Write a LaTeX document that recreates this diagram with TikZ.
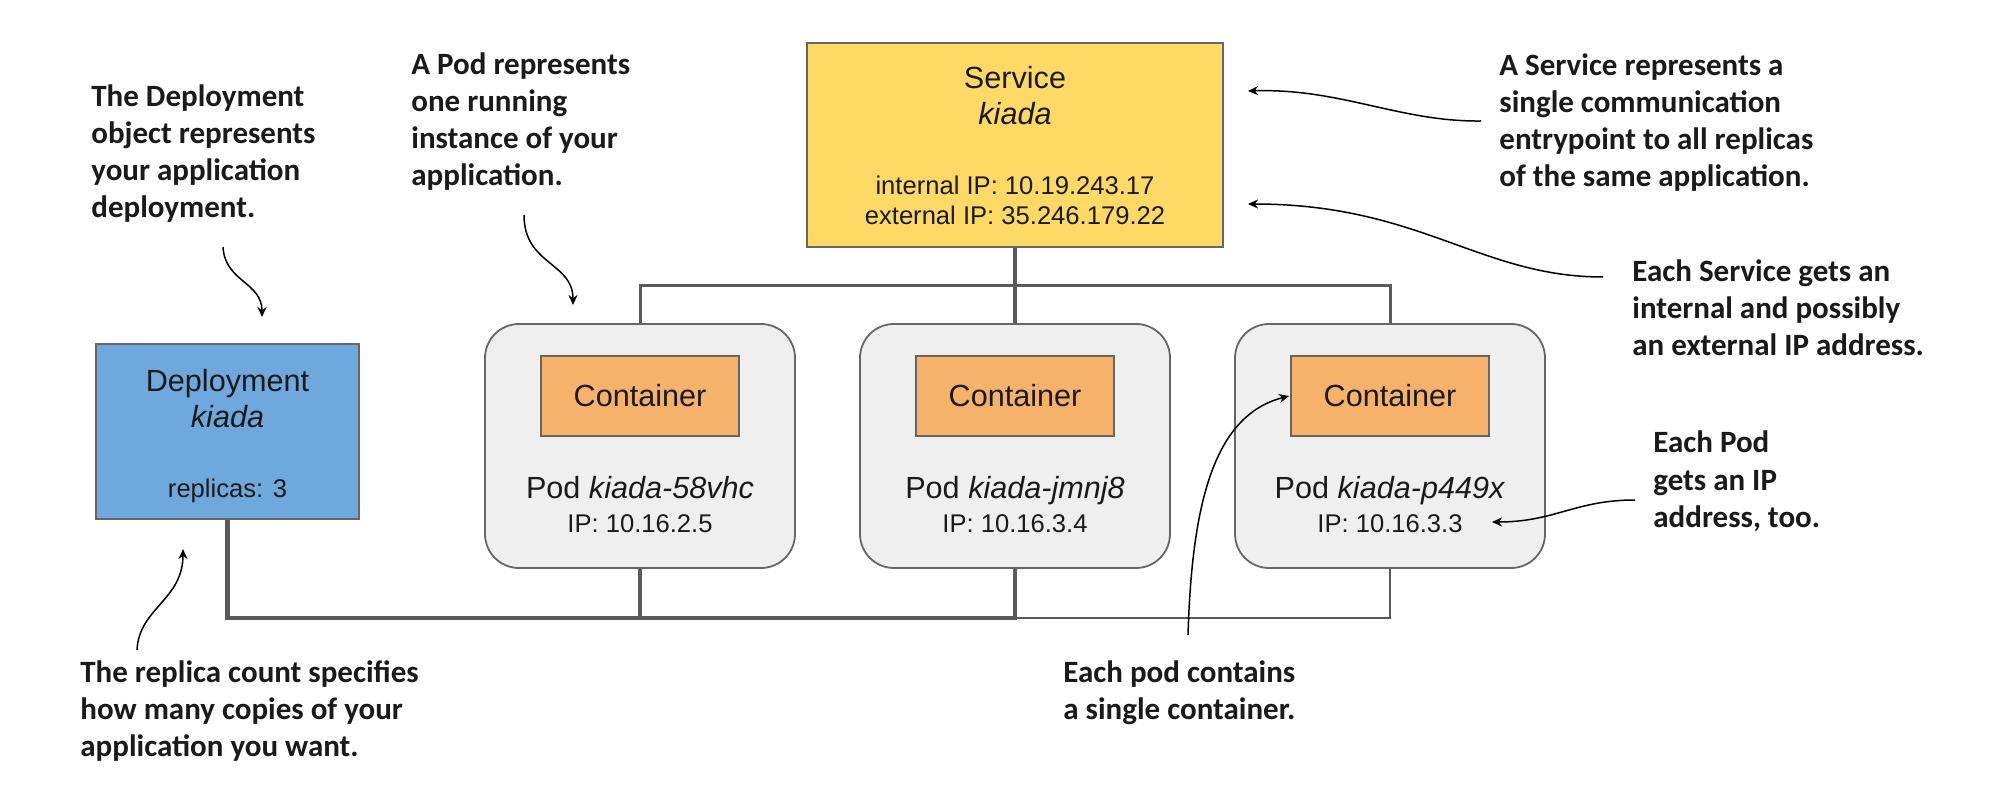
\documentclass[tikz,border=0pt]{standalone}
\usepackage{fontspec}
\setmainfont{Liberation Sans}
\newfontfamily\notefont{Carlito}
\usetikzlibrary{arrows.meta}

\definecolor{deplfill}{HTML}{6FA8DC}
\definecolor{svcfill}{HTML}{FFD966}
\definecolor{podfill}{HTML}{EFEFEF}
\definecolor{ctrfill}{HTML}{F6B26B}
\definecolor{edgegray}{HTML}{666666}
\definecolor{wiregray}{HTML}{5A5A5A}
\definecolor{txt}{HTML}{1A1A1A}

\begin{document}
\begin{tikzpicture}[x=0.5pt,y=-0.5pt,
  boxbase/.style={draw=edgegray, line width=0.9pt, inner sep=0pt},
  deplbox/.style={boxbase, fill=deplfill, minimum width=131.5pt, minimum height=87.5pt},
  svcbox/.style={boxbase, fill=svcfill, minimum width=208pt, minimum height=102pt},
  podbox/.style={boxbase, fill=podfill, rounded corners=17pt, minimum width=155pt, minimum height=122pt},
  ctrbox/.style={boxbase, fill=ctrfill, minimum width=99pt, minimum height=40pt, text=txt, font=\fontsize{15.3}{18}\selectfont},
  boxtitle/.style={anchor=base, inner sep=0pt, font=\fontsize{15.3}{18}\selectfont, text=txt},
  boxsmall/.style={anchor=base, inner sep=0pt, font=\fontsize{12.8}{15}\selectfont, text=txt},
  notetext/.style={anchor=base west, align=left, inner sep=0pt, text=txt, font=\notefont\bfseries\fontsize{15.5}{18.5}\selectfont},
  wireline/.style={draw=wiregray, line width=1.5pt},
  calloutline/.style={draw=black, line width=0.75pt, -{Stealth[length=5pt,width=4.5pt]}}
]
\fill[white] (0,0) rectangle (2008,796);
\useasboundingbox (0,0) rectangle (2008,796);

% junction coordinates
\coordinate (sj) at (1015,286);
\coordinate (bus) at (0,618);

% Deployment
\node[deplbox] (dep) at (227.5,431.5) {};
\node[boxtitle] (depT) at (227.5,392) {Deployment};
\node[boxtitle] (depN) at (227.5,428) {\itshape kiada};
\node[boxsmall] (depR) at (227.5,497) {replicas: 3};

% Service
\node[svcbox] (svc) at (1015,145) {};
\node[boxtitle] (svcT) at (1015,89) {Service};
\node[boxtitle] (svcN) at (1015,125) {\itshape kiada};
\node[boxsmall] (svcI) at (1015,195) {internal IP: 10.19.243.17};
\node[boxsmall] (svcE) at (1015,225) {external IP: 35.246.179.22};

% Pods
\foreach \i/\x/\nm/\ip in {1/640/kiada-58vhc/10.16.2.5, 2/1015/kiada-jmnj8/10.16.3.4, 3/1390/kiada-p449x/10.16.3.3}{
  \node[podbox] (pod\i) at (\x,446) {};
  \node[ctrbox] (ctr\i) at (\x,396) {Container};
  \node[boxtitle] (podN\i) at (\x,499) {Pod \textit{\nm}};
  \node[boxsmall] (podIP\i) at (\x,532) {IP: \ip};
}

% wires service -> pods
\draw[wireline] (svc.south) -- (sj) -| (pod1.north);
\draw[wireline] (svc.south) -- (sj) -| (pod3.north);
\draw[wireline, line width=2pt] (svc.south) -- (pod2.north);

% wires deployment -> pods
\draw[wireline, line width=1.4pt] (dep.south) -- (dep.south |- bus) -| (pod3.south);
\draw[wireline, line width=1.8pt] (dep.south) -- (dep.south |- bus) -| (pod2.south);
\draw[wireline, line width=2.2pt] (dep.south) -- (dep.south |- bus) -| (pod1.south);

% annotations (anchored at the baseline of their last line)
\node[notetext] (n1) at (91,218) {The Deployment\\object represents\\your application\\deployment.};
\node[notetext] (n2) at (411,186) {A Pod represents\\one running\\instance of your\\application.};
\node[notetext] (n3) at (1499,187) {A Service represents a\\single communication\\entrypoint to all replicas\\of the same application.};
\node[notetext] (n4) at (1632,356) {Each Service gets an\\internal and possibly\\an external IP address.};
\node[notetext] (n5) at (1653,527) {Each Pod\\gets an IP\\address, too.};
\node[notetext] (n6) at (1063,719) {Each pod contains\\a single container.};
\node[notetext] (n7) at (80,756) {The replica count specifies\\how many copies of your\\application you want.};

% callout arrows
\coordinate (c1s) at (223,247);  \coordinate (c1t) at (262,317);
\coordinate (c2s) at (524,215);  \coordinate (c2t) at (573,305);
\coordinate (c3s) at (1481,121); \coordinate (c3t) at (1248,91);
\coordinate (c4s) at (1603,277); \coordinate (c4t) at (1248,204);
\coordinate (c5s) at (1635,500); \coordinate (c5t) at (1492,522);
\coordinate (c6s) at (1188,635); \coordinate (c6t) at (1289,396);
\coordinate (c7s) at (137,650);  \coordinate (c7t) at (183,549);

\draw[calloutline] (c1s) .. controls (225,282) and (262,282) .. (c1t);
\draw[calloutline] (c2s) .. controls (524,265) and (573,262) .. (c2t);
\draw[calloutline] (c3s) .. controls (1400,122) and (1340,88) .. (c3t);
\draw[calloutline] (c4s) .. controls (1480,277) and (1420,204) .. (c4t);
\draw[calloutline] (c5s) .. controls (1575,500) and (1555,522) .. (c5t);
\draw[calloutline] (c6s) .. controls (1192,500) and (1215,415) .. (c6t);
\draw[calloutline] (c7s) .. controls (139,608) and (183,600) .. (c7t);
\end{tikzpicture}
\end{document}
